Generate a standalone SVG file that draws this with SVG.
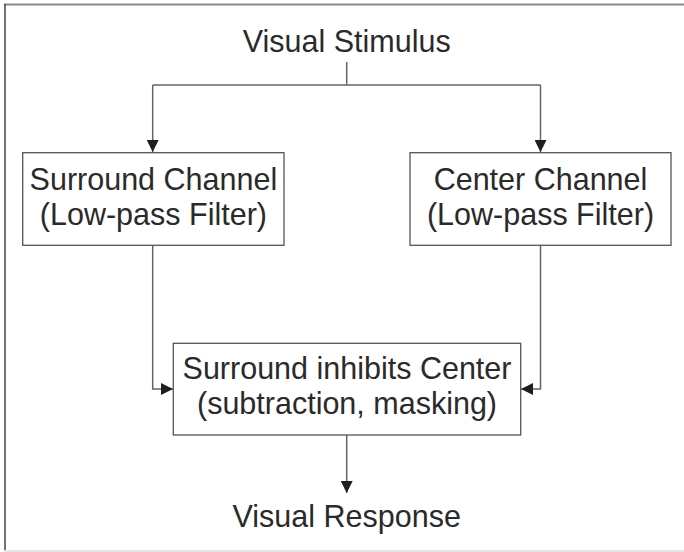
<svg xmlns="http://www.w3.org/2000/svg" width="684" height="552" viewBox="0 0 684 552">
<style>
.t{font-family:"Liberation Sans",Arial,sans-serif;font-size:30.5px;fill:#2a2a2a;text-anchor:middle}
.box{fill:#fff;stroke:#555;stroke-width:1.3}
.c{fill:none;stroke:#666;stroke-width:1.5}
</style>
<defs>
<marker id="ah" viewBox="0 0 12 12" refX="12" refY="6" markerWidth="12" markerHeight="12" markerUnits="userSpaceOnUse" orient="auto">
<path d="M0,0 L12,6 L0,12 Z" fill="#1e1e1e"/>
</marker>
</defs>
<rect x="0" y="0" width="684" height="552" fill="#fff"/>
<line x1="4" y1="4.5" x2="684" y2="4.5" stroke="#888" stroke-width="2"/>
<line x1="5" y1="4" x2="5" y2="551" stroke="#444" stroke-width="1.5"/>
<line x1="4" y1="551" x2="684" y2="551" stroke="#e6e6e6" stroke-width="2"/>
<g id="connectors">
<path class="c" d="M346.7,62 V85 M152.7,85 H540.5"/>
<path class="c" d="M152.7,85 V152" marker-end="url(#ah)"/>
<path class="c" d="M540.5,85 V152" marker-end="url(#ah)"/>
<path class="c" d="M152.7,245 V389 H173" marker-end="url(#ah)"/>
<path class="c" d="M540.5,245 V389 H521" marker-end="url(#ah)"/>
<path class="c" d="M346.7,435 V493" marker-end="url(#ah)"/>
</g>
<g id="stimulus"><text class="t" x="346.7" y="52">Visual Stimulus</text></g>
<g id="surround">
<rect class="box" x="22.7" y="152.7" width="261.3" height="92.6"/>
<text class="t" x="153.4" y="189.5">Surround Channel</text>
<text class="t" x="153.4" y="225">(Low-pass Filter)</text>
</g>
<g id="center">
<rect class="box" x="410" y="152.7" width="261" height="92.6"/>
<text class="t" x="540.5" y="189.5">Center Channel</text>
<text class="t" x="540.5" y="225">(Low-pass Filter)</text>
</g>
<g id="inhibit">
<rect class="box" x="173.3" y="343.3" width="347.4" height="91.7"/>
<text class="t" x="347" y="379.3">Surround inhibits Center</text>
<text class="t" x="347" y="413.5">(subtraction, masking)</text>
</g>
<g id="response"><text class="t" x="346.7" y="527">Visual Response</text></g>
</svg>
